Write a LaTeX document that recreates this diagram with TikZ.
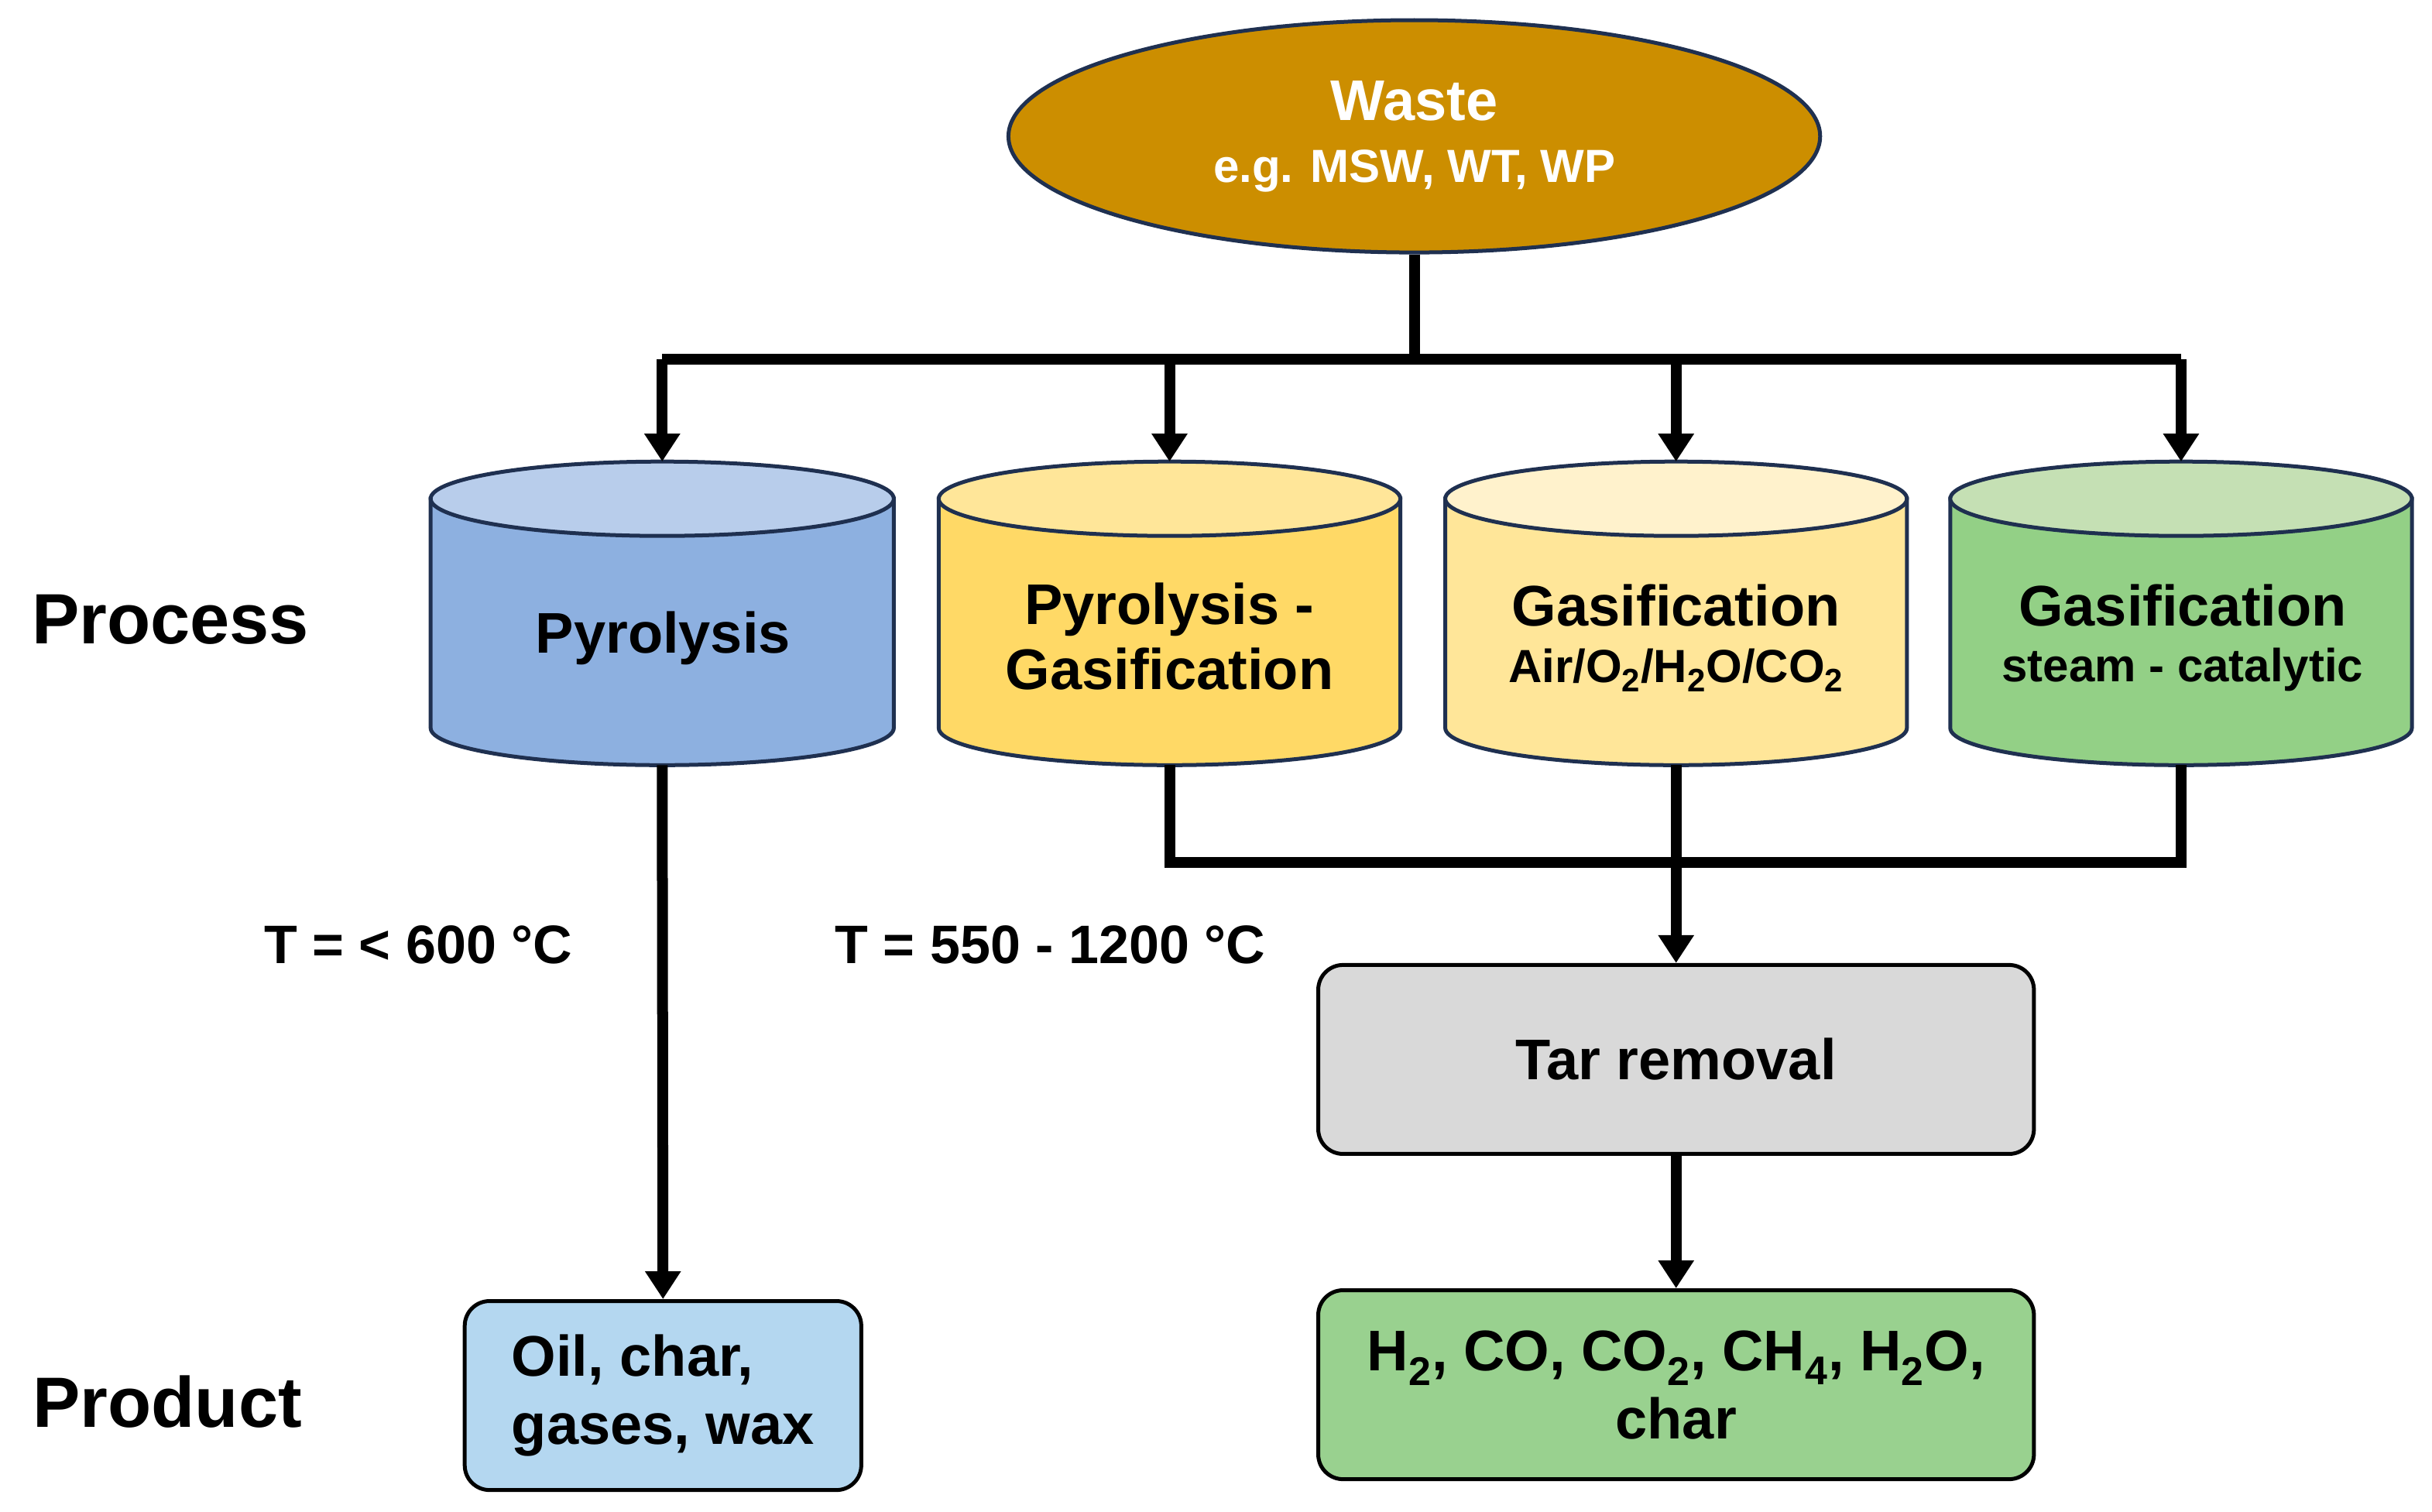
\documentclass[tikz,border=0pt]{standalone}
\usepackage{fontspec}
\setmainfont{Liberation Sans}
\usetikzlibrary{arrows.meta,shapes.geometric}
\definecolor{edge}{HTML}{1F3050}
\definecolor{wastec}{RGB}{204,142,0}
\definecolor{b1}{RGB}{141,176,224}\definecolor{t1}{RGB}{184,205,235}
\definecolor{b2}{RGB}{255,217,102}\definecolor{t2}{RGB}{255,230,153}
\definecolor{b3}{RGB}{255,230,153}\definecolor{t3}{RGB}{255,242,204}
\definecolor{b4}{RGB}{147,208,134}\definecolor{t4}{RGB}{197,224,180}
\definecolor{tarc}{RGB}{217,217,217}
\definecolor{o1c}{RGB}{180,215,240}
\definecolor{o2c}{RGB}{153,209,143}
\begin{document}
\begin{tikzpicture}[x=1pt,y=-1pt,
  flow/.style={line width=7pt,-{Triangle[length=18pt,width=22pt]}},
  line/.style={line width=7pt},
  lbl/.style={font=\bfseries\fontsize{37}{42}\selectfont,align=center},
  side/.style={font=\bfseries\fontsize{46}{50}\selectfont},
  tlab/.style={font=\bfseries\fontsize{35}{40}\selectfont},
  box/.style={draw=black,line width=2.5pt,rounded corners=16pt,minimum height=122pt,align=center}]
\useasboundingbox (0,0) rectangle (1570,976);
\newcommand{\cyl}[5]{%
  \pgfmathsetmacro\cx{(#2+#3)/2}\pgfmathsetmacro\rx{(#3-#2)/2}
  \filldraw[fill=#4,draw=edge,line width=2.5pt] (#2,322) -- (#2,470) arc[start angle=180,end angle=0,x radius=\rx,y radius=24] -- (#3,322) -- cycle;
  \filldraw[fill=#5,draw=edge,line width=2.5pt] (\cx,322) ellipse [x radius=\rx,y radius=24];
  \coordinate (#1t) at (\cx,298); \coordinate (#1b) at (\cx,494);}
\node[ellipse,fill=wastec,draw=edge,line width=2.5pt,minimum width=524pt,minimum height=150pt,text=white,align=center,font=\bfseries\fontsize{37}{40}\selectfont] (waste) at (913,88) {Waste\\{\fontsize{30}{36}\selectfont e.g. MSW, WT, WP}};
\cyl{c1}{278}{577}{b1}{t1}
\cyl{c2}{606}{904}{b2}{t2}
\cyl{c3}{933}{1231}{b3}{t3}
\cyl{c4}{1259}{1557}{b4}{t4}
\node[lbl] (p1) at (428,412) {Pyrolysis};
\node[lbl] (p2) at (755,411) {Pyrolysis -\\Gasification};
\node[lbl] (p3) at (1082,412) {Gasification\\[-6pt]{\fontsize{30}{34}\selectfont Air/O\textsubscript{2}/H\textsubscript{2}O/CO\textsubscript{2}}};
\node[lbl] (p4) at (1409,412) {Gasification\\[-6pt]{\fontsize{30}{34}\selectfont steam - catalytic}};
\node[side] (proc) at (110,400) {Process};
\node[side] (prod) at (108,905) {Product};
\node[tlab] (tl1) at (270,610) {T = < 600 °C};
\node[tlab] (tl2) at (678,610) {T = 550 - 1200 °C};
\node[box,fill=tarc,minimum width=462pt,font=\bfseries\fontsize{37}{42}\selectfont] (tar) at (1082,684) {Tar removal};
\node[box,fill=o1c,minimum width=256pt,font=\bfseries\fontsize{37}{44}\selectfont,align=left] (o1) at (428,901) {Oil, char,\\gases, wax};
\node[box,fill=o2c,minimum width=462pt,font=\bfseries\fontsize{37}{44}\selectfont] (o2) at (1082,894) {H\textsubscript{2}, CO, CO\textsubscript{2}, CH\textsubscript{4}, H\textsubscript{2}O,\\char};
\coordinate (j) at (913,232);
\coordinate (m) at (1082,557);
\draw[line] (waste.south) -- (j);
\draw[line] (c1t |- j) -- (c4t |- j);
\foreach \c in {c1,c2,c3,c4} \draw[flow] (\c t |- j) -- (\c t);
\draw[flow] (c1b) -- (o1.north);
\draw[line] (c2b) -- (c2b |- m) -- (c4b |- m) -- (c4b);
\draw[line] (c3b) -- (m);
\draw[flow] (m) -- (tar.north);
\draw[flow] (tar.south) -- (o2.north);
\end{tikzpicture}
\end{document}
